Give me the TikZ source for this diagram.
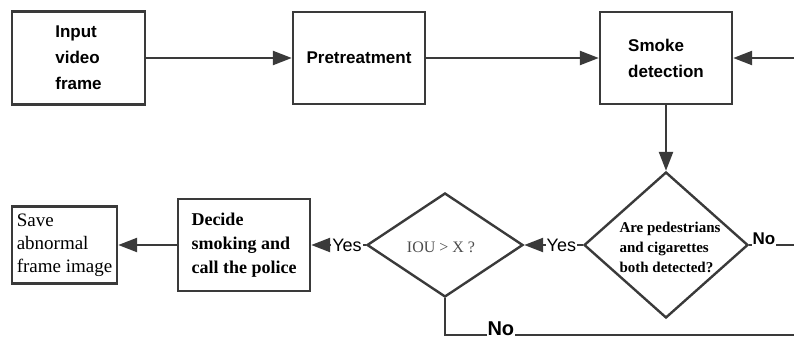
\documentclass[tikz,border=0pt]{standalone}
\usepackage{fontspec}
\setmainfont{Liberation Serif}
\setsansfont{Liberation Sans}
\usetikzlibrary{arrows.meta,shapes.geometric}
\definecolor{ln}{HTML}{3A3A3A}
\begin{document}
\begin{tikzpicture}[x=1pt,y=-1pt,
  box/.style={draw=ln, line width=2.4pt, inner sep=0pt},
  topbox/.style={box, font=\sffamily\bfseries\fontsize{17}{26}\selectfont, align=left},
  dia/.style={draw=ln, line width=2.4pt, diamond, inner sep=0pt},
  line/.style={draw=ln, line width=2.4pt},
  arr/.style={line, -{Triangle[length=19pt,width=14pt]}},
  lab/.style={fill=white, inner sep=1pt, font=\sffamily\fontsize{18}{20}\selectfont},
  nolab/.style={fill=white, inner sep=1pt, yshift=6pt, font=\sffamily\bfseries\fontsize{17}{20}\selectfont},
]
\useasboundingbox (0,0) rectangle (794,340);

\node[topbox, minimum width=133pt, minimum height=93pt] (in) at (78.5,58) {Input\\video\\frame};
\node[topbox, minimum width=132pt, minimum height=92pt] (pre) at (359,58) {Pretreatment};
\node[topbox, minimum width=132pt, minimum height=92pt] (smk) at (666,58) {Smoke\\detection};

\node[box, minimum width=105pt, minimum height=77pt, align=left, font=\fontsize{19}{23}\selectfont] (save) at (64.5,245) {Save\\abnormal\\frame image};
\node[box, minimum width=132pt, minimum height=92pt, align=left, font=\bfseries\fontsize{18}{24}\selectfont] (dec) at (244,245) {Decide\\smoking and\\call the police};

\node[dia, minimum width=156pt, minimum height=104pt] (d2) at (445,245) {};
\node[inner sep=0pt, text=black!70, font=\fontsize{16}{18}\selectfont] (t2) at (441,247) {IOU > X ?};

\node[dia, minimum width=164pt, minimum height=146pt] (d1) at (666,245) {};
\node[inner sep=0pt, align=left, font=\bfseries\fontsize{15}{20}\selectfont] (t1) at (670,247) {Are pedestrians\\and cigarettes\\both detected?};

\coordinate (rin) at (794,58);
\coordinate (rno) at (794,245);
\coordinate (bno) at (794,335);

\draw[arr] (in) -- (pre);
\draw[arr] (pre) -- (smk);
\draw[arr] (rin) -- (smk);
\draw[arr] (smk) -- (d1);
\draw[arr] (d1) -- node[lab, pos=0.366] {Yes} (d2);
\draw[arr] (d2) -- node[lab, pos=0.344] {Yes} (dec);
\draw[arr] (dec) -- (save);
\draw[line] (d1.east) -- node[nolab, pos=0.33] {No} (rno);
\draw[line] (d2.south) -- (d2.south |- bno) -- node[nolab, pos=0.16, font=\sffamily\bfseries\fontsize{20}{22}\selectfont] {No} (bno);
\end{tikzpicture}
\end{document}
